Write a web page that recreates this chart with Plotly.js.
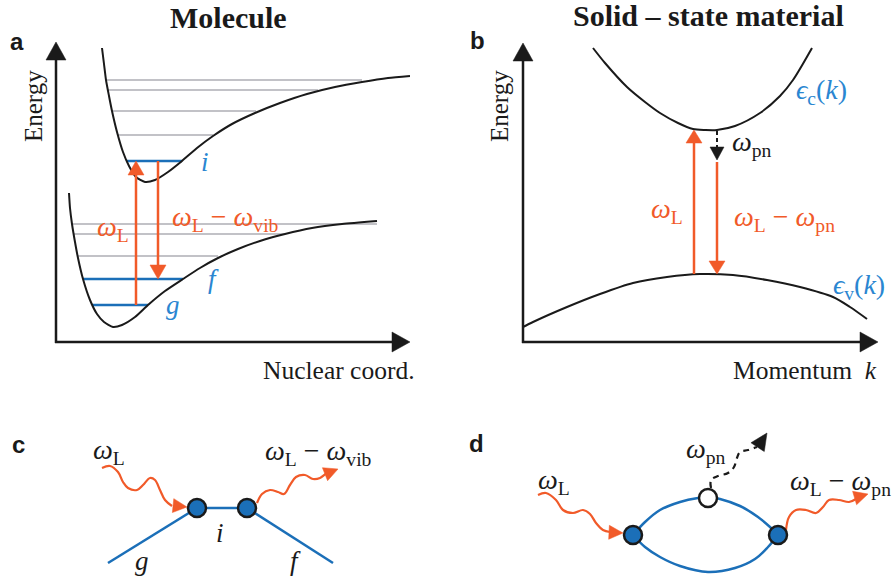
<!DOCTYPE html>
<html><head><meta charset="utf-8">
<script src="https://cdn.plot.ly/plotly-3.0.1.min.js"></script>
<style>html,body{margin:0;padding:0;background:#fff}#chart{width:892px;height:578px}</style>
</head><body><div id="chart"></div>
<script>
// ---------- colours ----------
const BLACK = '#1a1a1a', ORANGE = '#f15a29', BLUE = '#1b6fb8', GRAY = '#c2c2c7', LBLUE = '#2a86d1';

// ---------- Panel a: potential-energy curves ----------
const excitedX = [102,104,106,109,112,117,123,129,136,145,155,168,182,197,213,232,255,280,307,335,362,388,410];
const excitedY = [48,64,80,96,111,132,152,166,177,182,180,172,161,148,136,124,113,103,94,87,82,78,76];
const groundX  = [69,70,72,75,78,83,90,97,104,113,122,135,148,165,183,200,218,238,260,285,312,342,377];
const groundY  = [193,208,224,242,258,279,300,314,322,327,325,317,305,291,279,268,258,249,241,234,228,224,221];
// vibrational levels (gray) : level height, left end, right end
const upperLevelY  = [80,90,111,135];
const upperLevelX0 = [106,108,112,118];
const upperLevelX1 = [362,318,256,213];
const lowerLevelY  = [224,234,256];
const lowerLevelX0 = [72,74,78];
const lowerLevelX1 = [377,285,218];
// highlighted levels i, f, g (blue)
const stateY  = [161,279,305];
const stateX0 = [126,83,92];
const stateX1 = [182,183,148];

// ---------- Panel b: bands ----------
const condX = [593,605,627,645,660,678,693,705,717,735,760,780,793,812];
const condY = [48,63,87,102,113,123,129,130,130,126,113,96,80,48];
const valX  = [523,533,567,600,633,667,700,733,767,800,833,850,867];
const valY  = [327,322,307,294,283,277,274,275,280,287,297,307,319];

// ---------- Panel c / d: diagram nodes ----------
const cNodesX = [197,247], cNodesY = [508,508];
const cLegsX = [[108,197],[197,247],[247,333]], cLegsY = [[563,508],[508,508],[508,563]];
const cInX  = [102,110,118,123,128,137,143,150,155,160,165,172];
const cInY  = [468,466,472,482,488,490,485,478,480,490,500,506];
const cOutX = [257,262,270,278,284,290,296,305,313,320,327,332];
const cOutY = [503,494,490,492,494,485,477,475,479,478,473,472];

const dNodesX = [633,778], dNodesY = [535,535];
const dOpenX = [708], dOpenY = [498];
const dUpperX = [633,645,660,680,698,708,720,740,758,770,778];
const dUpperY = [535,522,510,502,498,497,499,506,517,527,535];
const dLowerX = [633,645,660,680,708,735,755,768,778];
const dLowerY = [535,547,557,566,572,568,559,547,535];
const dInX  = [538,546,556,563,573,583,590,596,603,610];
const dInY  = [495,493,500,510,513,510,514,523,530,532];
const dOutX = [786,789,796,806,816,823,829,839,849,856];
const dOutY = [530,517,510,510,513,507,500,500,502,499];
const dPhonX = [711,711,718,728,734,737,740,748,757];
const dPhonY = [488,480,476,473,467,458,452,450,447];

// ---------- helpers ----------
const traces = [];
function line(x, y, color, width, opts) {
  opts = opts || {};
  traces.push({x, y, mode:'lines', type:'scatter', hoverinfo:'skip', showlegend:false,
    line:{color, width, shape: opts.shape || 'linear', smoothing: opts.smoothing || 1, dash: opts.dash || 'solid'}});
}
function head(tip, dir, len, hw, color) {
  const L = Math.hypot(dir[0], dir[1]); const ux = dir[0]/L, uy = dir[1]/L;
  const bx = tip[0]-ux*len, by = tip[1]-uy*len, px = -uy, py = ux;
  traces.push({x:[tip[0], bx+px*hw, bx-px*hw, tip[0]], y:[tip[1], by+py*hw, by-py*hw, tip[1]],
    mode:'lines', fill:'toself', fillcolor:color, line:{color, width:0.5}, hoverinfo:'skip', showlegend:false});
}
function arrow(x0, y0, x1, y1, color, width, len, hw, dash) {
  const L = Math.hypot(x1-x0, y1-y0), ux = (x1-x0)/L, uy = (y1-y0)/L;
  line([x0, x1-ux*len*0.9], [y0, y1-uy*len*0.9], color, width, {dash});
  head([x1,y1], [ux,uy], len, hw, color);
}

// ---------- panel a ----------
upperLevelY.forEach((y,k)=>line([upperLevelX0[k], upperLevelX1[k]], [y,y], GRAY, 2));
lowerLevelY.forEach((y,k)=>line([lowerLevelX0[k], lowerLevelX1[k]], [y,y], GRAY, 2));
stateY.forEach((y,k)=>line([stateX0[k], stateX1[k]], [y,y], BLUE, 2.5));
line(excitedX, excitedY, BLACK, 2, {shape:'spline', smoothing:0.6});
line(groundX, groundY, BLACK, 2, {shape:'spline', smoothing:0.6});
arrow(136, stateY[2], 136, stateY[0], ORANGE, 2.5, 14, 8);
arrow(158, stateY[0], 158, stateY[1], ORANGE, 2.5, 14, 8);
arrow(56, 343, 56, 42, BLACK, 2.5, 18, 10);
arrow(55, 342, 410, 342, BLACK, 2.5, 18, 10);

// ---------- panel b ----------
line(condX, condY, BLACK, 2, {shape:'spline', smoothing:0.8});
line(valX, valY, BLACK, 2, {shape:'spline', smoothing:0.8});
arrow(694, 274, 694, 130, ORANGE, 2.5, 13, 8);
arrow(717, 162, 717, 274, ORANGE, 2.5, 13, 8);
arrow(717, 131, 717, 160, BLACK, 2, 13, 7, '4px,3px');
arrow(523, 343, 523, 43, BLACK, 2.5, 18, 10);
arrow(522, 342, 878, 342, BLACK, 2.5, 18, 10);

// ---------- panel c ----------
cLegsX.forEach((xs,k)=>line(xs, cLegsY[k], BLUE, 2.5));
line(cInX, cInY, ORANGE, 2.2, {shape:'spline'});
head([187,507], [1,0.1], 14, 7, ORANGE);
line(cOutX, cOutY, ORANGE, 2.2, {shape:'spline'});
head([338,469], [1,-0.4], 14, 7, ORANGE);
traces.push({x:cNodesX, y:cNodesY, mode:'markers', hoverinfo:'skip', showlegend:false,
  marker:{size:18, color:BLUE, line:{color:BLACK, width:2.5}}});

// ---------- panel d ----------
line(dUpperX, dUpperY, BLUE, 2.5, {shape:'spline'});
line(dLowerX, dLowerY, BLUE, 2.5, {shape:'spline'});
line(dInX, dInY, ORANGE, 2.2, {shape:'spline'});
head([623,533], [1,0.05], 14, 7, ORANGE);
line(dOutX, dOutY, ORANGE, 2.2, {shape:'spline'});
head([868,494], [1,-0.3], 14, 7, ORANGE);
line(dPhonX, dPhonY, BLACK, 2.2, {shape:'spline', dash:'6px,5px'});
head([767,433], [0.55,-0.83], 17, 8, BLACK);
traces.push({x:dNodesX, y:dNodesY, mode:'markers', hoverinfo:'skip', showlegend:false,
  marker:{size:18, color:BLUE, line:{color:BLACK, width:2.5}}});
traces.push({x:dOpenX, y:dOpenY, mode:'markers', hoverinfo:'skip', showlegend:false,
  marker:{size:18, color:'#ffffff', line:{color:BLACK, width:2.5}}});

// ---------- text ----------
const SERIF = 'Liberation Serif';
const SANS = 'Liberation Sans';
const ann = [];
function txt(x, y, text, opts) {
  opts = opts || {};
  ann.push({x, y, xref:'x', yref:'y', text, showarrow:false,
    xanchor: opts.xa || 'center', yanchor: opts.ya || 'middle', textangle: opts.angle || 0,
    font:{family: opts.family || SERIF, size: opts.size || 28, color: opts.color || BLACK}});
}
const wL = '<i>ω</i><sub>L</sub>';
const wLvib = '<i>ω</i><sub>L</sub> − <i>ω</i><sub>vib</sub>';
const wpn = '<i>ω</i><sub>pn</sub>';
const wLpn = '<i>ω</i><sub>L</sub> − <i>ω</i><sub>pn</sub>';

txt(228, 17, '<b>Molecule</b>', {size:30});
txt(708, 15, '<b>Solid – state material</b>', {size:30});
txt(17, 41, '<b>a</b>', {family:SANS, size:24});
txt(477, 40, '<b>b</b>', {family:SANS, size:24});
txt(18, 444, '<b>c</b>', {family:SANS, size:24});
txt(476, 443, '<b>d</b>', {family:SANS, size:24});
txt(33, 106, 'Energy', {angle:-90, size:25});
txt(499, 106, 'Energy', {angle:-90, size:25});
txt(417, 370, 'Nuclear coord.', {xa:'right', size:25.5});
txt(879, 370, 'Momentum  <i>k</i>', {xa:'right', size:25.5});
txt(205, 162, '<i>i</i>', {color:LBLUE, size:27});
txt(213, 279, '<i>f</i>', {color:LBLUE, size:27});
txt(173, 305, '<i>g</i>', {color:LBLUE, size:27});
txt(113, 228, wL, {color:ORANGE});
txt(225, 218, wLvib, {color:ORANGE});
txt(667, 210, wL, {color:ORANGE});
txt(784, 218, wLpn, {color:ORANGE});
txt(752, 143, wpn);
txt(821, 91, '<i>ϵ</i><sub>c</sub>(<i>k</i>)', {color:LBLUE});
txt(859, 286, '<i>ϵ</i><sub>v</sub>(<i>k</i>)', {color:LBLUE});
txt(109, 451, wL);
txt(318, 452, wLvib);
txt(220, 533, '<i>i</i>', {size:27});
txt(142, 561, '<i>g</i>', {size:27});
txt(295, 561, '<i>f</i>', {size:27});
txt(554, 481, wL);
txt(706, 450, wpn);
txt(840, 482, wLpn);

const layout = {
  width:892, height:578, autosize:false, margin:{l:0,r:0,t:0,b:0},
  paper_bgcolor:'#ffffff', plot_bgcolor:'#ffffff', showlegend:false,
  xaxis:{range:[0,892], visible:false, fixedrange:true},
  yaxis:{range:[578,0], visible:false, fixedrange:true},
  annotations: ann
};
Plotly.newPlot('chart', traces, layout, {staticPlot:true, displayModeBar:false});
</script></body></html>
